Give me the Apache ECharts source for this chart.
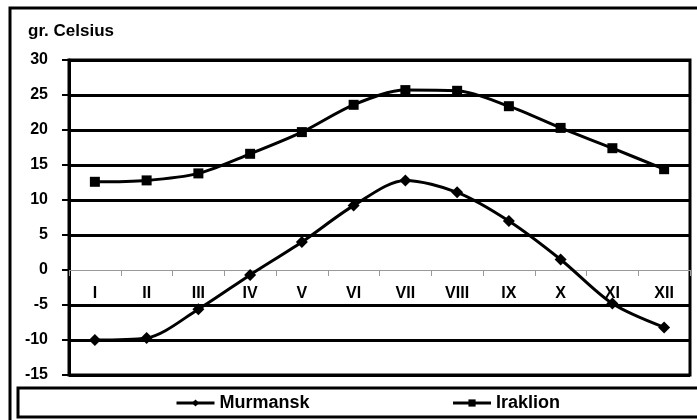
<!DOCTYPE html>
<html>
<head>
<meta charset="utf-8">
<script src="https://cdn.jsdelivr.net/npm/echarts@6/dist/echarts.min.js"></script>
<style>
  html, body { margin: 0; padding: 0; background: #fff; }
  #app { width: 697px; height: 420px; }
</style>
</head>
<body>
<div id="app"></div>
<script>
var months = ["I", "II", "III", "IV", "V", "VI", "VII", "VIII", "IX", "X", "XI", "XII"];
var murmansk = [-10, -9.7, -5.6, -0.7, 4, 9.2, 12.8, 11.1, 7, 1.5, -4.8, -8.2];
var iraklion = [12.6, 12.8, 13.8, 16.6, 19.7, 23.6, 25.7, 25.6, 23.4, 20.3, 17.4, 14.4];

var font = '"Liberation Sans Narrow", "Liberation Sans", Arial, sans-serif';
var chartDom = document.getElementById("app");
var myChart = echarts.init(chartDom);

// 0 line is the thin grey x axis, the rest are thick black
var splitColors = ["#000", "#000", "#000", "rgba(0,0,0,0)", "#000", "#000", "#000", "#000", "#000", "#000"];

var option = {
  animation: false,
  backgroundColor: "#fff",
  graphic: [
    {
      type: "rect",
      shape: { x: 10, y: 8, width: 700, height: 430 },
      style: { fill: "none", stroke: "#000", lineWidth: 3 },
      z: -1
    },
    {
      type: "rect",
      shape: { x: 18, y: 388, width: 700, height: 29 },
      style: { fill: "none", stroke: "#000", lineWidth: 3 },
      z: -1
    },
    {
      type: "text",
      left: 28,
      top: 23,
      style: { text: "gr. Celsius", font: "bold 17px " + font, fill: "#000" }
    }
  ],
  grid: {
    left: 69,
    right: 7,
    top: 60,
    bottom: 45,
    show: true,
    borderColor: "#000",
    borderWidth: 3
  },
  legend: {
    left: 175,
    top: 394,
    padding: 0,
    itemWidth: 38,
    itemHeight: 9,
    itemGap: 142,
    lineStyle: { width: 3 },
    textStyle: { fontFamily: font, fontWeight: "bold", fontSize: 18, color: "#000" },
    data: ["Murmansk", "Iraklion"]
  },
  xAxis: {
    type: "category",
    data: months,
    axisLine: { onZero: true, lineStyle: { color: "#999", width: 1 } },
    axisTick: { show: true, length: 6, lineStyle: { color: "#999" } },
    axisLabel: { margin: -89, fontFamily: font, fontWeight: "bold", fontSize: 16, color: "#000" }
  },
  yAxis: {
    type: "value",
    min: -15,
    max: 30,
    interval: 5,
    axisLine: { show: true, lineStyle: { color: "#000", width: 3 } },
    axisTick: { show: true, length: 7, lineStyle: { color: "#000", width: 2 } },
    axisLabel: { margin: 21, fontFamily: font, fontWeight: "bold", fontSize: 16, color: "#000" },
    splitLine: { lineStyle: { color: splitColors, width: 3 } }
  },
  series: [
    {
      name: "Murmansk",
      type: "line",
      data: murmansk,
      smooth: 0.3,
      symbol: "diamond",
      symbolSize: 12,
      itemStyle: { color: "#000" },
      lineStyle: { color: "#000", width: 3 }
    },
    {
      name: "Iraklion",
      type: "line",
      data: iraklion,
      smooth: 0.3,
      symbol: "rect",
      symbolSize: 10,
      itemStyle: { color: "#000" },
      lineStyle: { color: "#000", width: 3 }
    }
  ]
};

option && myChart.setOption(option);
</script>
</body>
</html>
